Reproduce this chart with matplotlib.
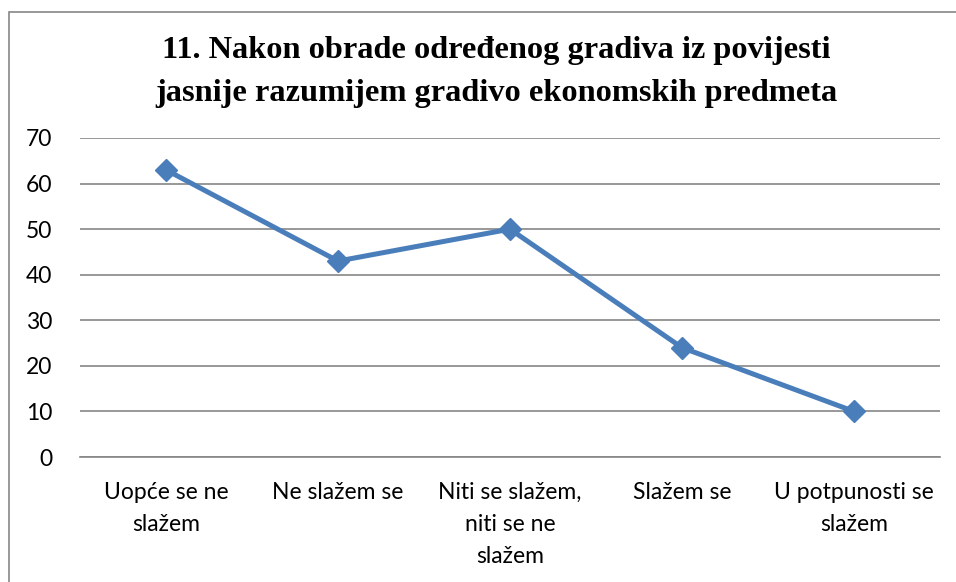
import matplotlib.pyplot as plt
from matplotlib.patches import Rectangle

categories = ["Uopće se ne\nslažem", "Ne slažem se", "Niti se slažem,\nniti se ne\nslažem",
              "Slažem se", "U potpunosti se\nslažem"]
values = [63, 43, 50, 24, 10]
yticks = [0, 10, 20, 30, 40, 50, 60, 70]
title = "11. Nakon obrade određenog gradiva iz povijesti\njasnije razumijem gradivo ekonomskih predmeta"

fig = plt.figure(figsize=(9.56, 5.82), dpi=100)
ax = fig.add_axes([80 / 956, 125 / 582, 860 / 956, 319 / 582])

# chart border like the Excel chart area
fig.patches.append(Rectangle((9 / 956, -0.1), 1.2, (582 - 12) / 582 + 0.1,
                             transform=fig.transFigure, fill=False,
                             edgecolor="#868686", linewidth=1.2))

x = list(range(len(values)))
ax.plot(x, values, color="#4A7EBB", linewidth=3.6, marker="D", markersize=11,
        markerfacecolor="#4A7EBB", markeredgecolor="#4A7EBB", zorder=3)

ax.set_xlim(-0.5, len(values) - 0.5)
ax.set_ylim(0, 70)
ax.set_yticks(yticks)
ax.set_yticklabels([str(t) for t in yticks], fontfamily="Lato", fontsize=16.5)
ax.set_xticks(x)
ax.set_xticklabels(categories, fontfamily="Lato", fontsize=16.5, linespacing=1.65, va="top")
ax.tick_params(axis="both", length=0)
ax.tick_params(axis="y", pad=20)
ax.tick_params(axis="x", pad=18)
ax.grid(axis="y", color="#868686", linewidth=1.2)
ax.set_axisbelow(True)
for side in ["left", "right", "top"]:
    ax.spines[side].set_visible(False)
ax.spines["bottom"].set_color("#868686")
ax.spines["bottom"].set_linewidth(1.2)

fig.text(496 / 956, 1 - 72 / 582, title, ha="center", va="center",
         fontfamily="Liberation Serif", fontweight="bold", fontsize=23.3, linespacing=1.62)

fig.savefig("out.png", dpi=100)
